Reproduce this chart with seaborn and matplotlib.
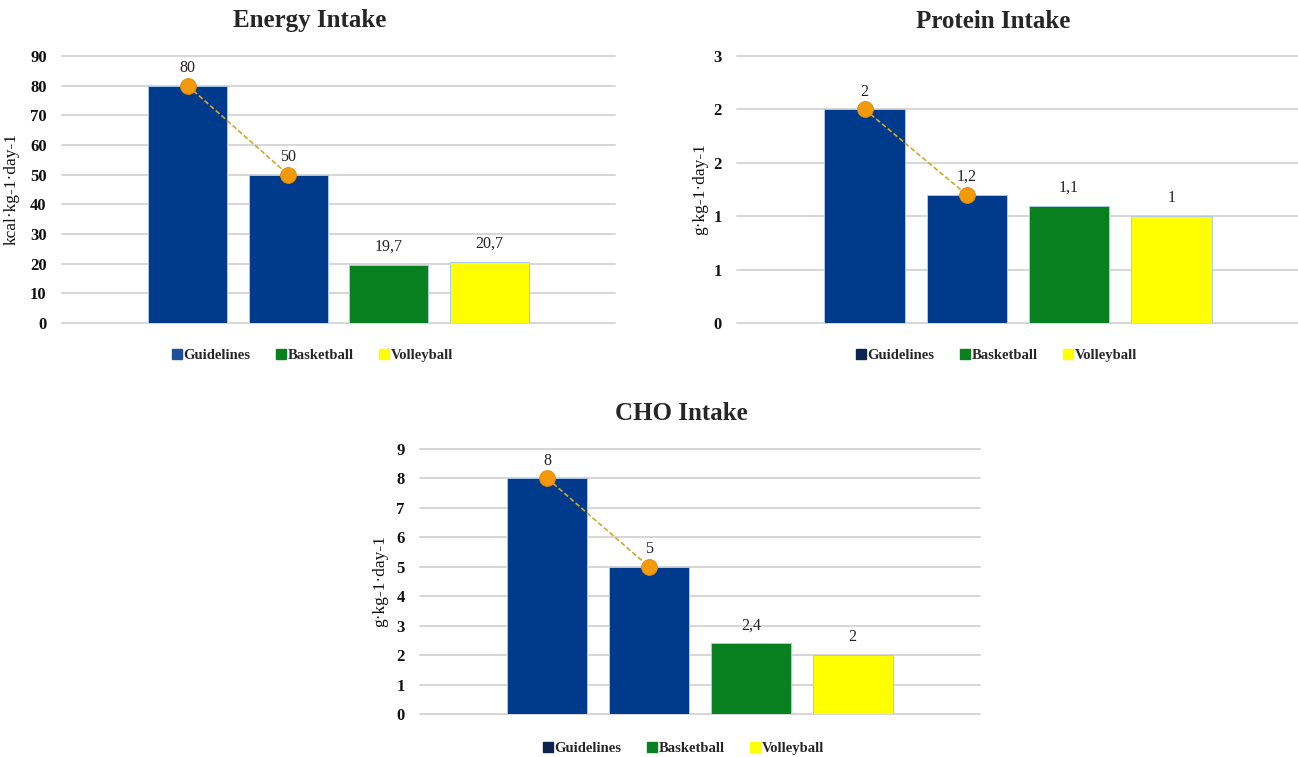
import matplotlib
matplotlib.use("Agg")
import matplotlib.pyplot as plt
import seaborn as sns
import pandas as pd
from matplotlib.lines import Line2D

# Bars shown in every panel (two guideline bounds, then the two teams)
bar_keys = ["Guidelines (upper)", "Guidelines (lower)", "Basketball", "Volleyball"]
bar_groups = ["Guidelines", "Guidelines", "Basketball", "Volleyball"]
legend_labels = ["Guidelines", "Basketball", "Volleyball"]

# Energy intake, kcal per kg per day
energy_values = [80, 50, 19.7, 20.7]
energy_ticks = [0, 10, 20, 30, 40, 50, 60, 70, 80, 90]
energy_tick_labels = ["0", "10", "20", "30", "40", "50", "60", "70", "80", "90"]

# Protein intake, g per kg per day (axis labels rounded to whole numbers)
protein_values = [2, 1.2, 1.1, 1]
protein_ticks = [0, 0.5, 1.0, 1.5, 2.0, 2.5]
protein_tick_labels = ["0", "1", "1", "2", "2", "3"]

# Carbohydrate intake, g per kg per day
cho_values = [8, 5, 2.4, 2]
cho_ticks = [0, 1, 2, 3, 4, 5, 6, 7, 8, 9]
cho_tick_labels = ["0", "1", "2", "3", "4", "5", "6", "7", "8", "9"]

group_colors = {"Guidelines": "#003A8C", "Basketball": "#08801F", "Volleyball": "#FFFF00"}
marker_color = "#F39A0C"
link_color = "#D1A82A"

sns.set_style("white")
plt.rcParams["font.family"] = ["Liberation Serif", "DejaVu Serif"]

fig = plt.figure(figsize=(12.98, 7.57), dpi=100)
W, H = 1298, 757


def px_axes(left, top, right, bottom):
    return fig.add_axes([left / W, 1 - bottom / H, (right - left) / W, (bottom - top) / H])


def fmt_value(v):
    return f"{v:g}".replace(".", ",")


def draw_panel(ax, values, ticks, tick_labels, ylabel, label_x):
    df = pd.DataFrame({"bar": bar_keys, "value": values, "group": bar_groups})
    sns.barplot(data=df, x="bar", y="value", hue="group", order=bar_keys,
                hue_order=legend_labels, palette=group_colors, dodge=False,
                width=0.79, saturation=1, legend=False, ax=ax,
                edgecolor="#A9CBE8", linewidth=0.7, zorder=2)
    # guideline range: dashed link between the upper and lower bound
    sns.lineplot(x=[0, 1], y=values[:2], ax=ax, color=link_color, lw=1.2,
                 linestyle=(0, (3, 1.5)), zorder=3)
    sns.scatterplot(x=[0, 1], y=values[:2], ax=ax, s=130, color=marker_color,
                    edgecolor="#E08A00", linewidth=0.6, zorder=4)
    for i, v in enumerate(values):
        ax.annotate(fmt_value(v), (i, v), xytext=(0, 7), textcoords="offset points",
                    ha="center", va="bottom", fontsize=11.5, color="#222222")

    ax.set_xlim(-1.25, 4.25)
    ax.set_ylim(ticks[0], ticks[-1])
    ax.set_yticks(ticks, tick_labels)
    ax.set_xticks([])
    ax.set_xlabel("")
    ax.set_ylabel(ylabel, fontsize=12.5, color="#111111")
    ax.yaxis.set_label_coords(label_x, 0.5)
    ax.yaxis.grid(True, color="#D6D6D6", lw=1.4)
    for gl in ax.get_ygridlines():
        gl.set_clip_on(False)
    ax.set_axisbelow(True)
    for s in ax.spines.values():
        s.set_visible(False)
    ax.tick_params(axis="y", length=0, pad=11, labelsize=12, labelcolor="#111111")
    for t in ax.get_yticklabels():
        t.set_fontweight("bold")


def add_legend(cx, cy, guide_color):
    colors = [guide_color, group_colors["Basketball"], group_colors["Volleyball"]]
    handles = [Line2D([], [], marker="s", ls="", color=c, markersize=7) for c in colors]
    fig.legend(handles, legend_labels, loc="center", bbox_to_anchor=(cx / W, 1 - cy / H),
               ncol=3, frameon=False, handletextpad=0.05, columnspacing=1.7,
               handlelength=0.8, prop={"weight": "bold", "size": 10.5})


ax_e = px_axes(62, 56, 615, 323)
draw_panel(ax_e, energy_values, energy_ticks, energy_tick_labels, "kcal·kg-1·day-1", -0.076)
fig.text(310 / W, 1 - 21 / H, "Energy Intake", ha="center", va="center",
         fontsize=18, fontweight="bold")
add_legend(312, 355, "#1F4E9A")

ax_p = px_axes(737, 56, 1299, 323)
draw_panel(ax_p, protein_values, protein_ticks, protein_tick_labels, "g·kg-1·day-1", -0.052)
fig.text(993 / W, 1 - 21 / H, "Protein Intake", ha="center", va="center",
         fontsize=18, fontweight="bold")
add_legend(996, 355, "#0D2350")

ax_c = px_axes(420, 449, 980, 714)
draw_panel(ax_c, cho_values, cho_ticks, cho_tick_labels, "g·kg-1·day-1", -0.057)
fig.text(681 / W, 1 - 414 / H, "CHO Intake", ha="center", va="center",
         fontsize=18, fontweight="bold")
add_legend(683, 748, "#0D2350")

fig.savefig("out.png", dpi=100, facecolor="white")
